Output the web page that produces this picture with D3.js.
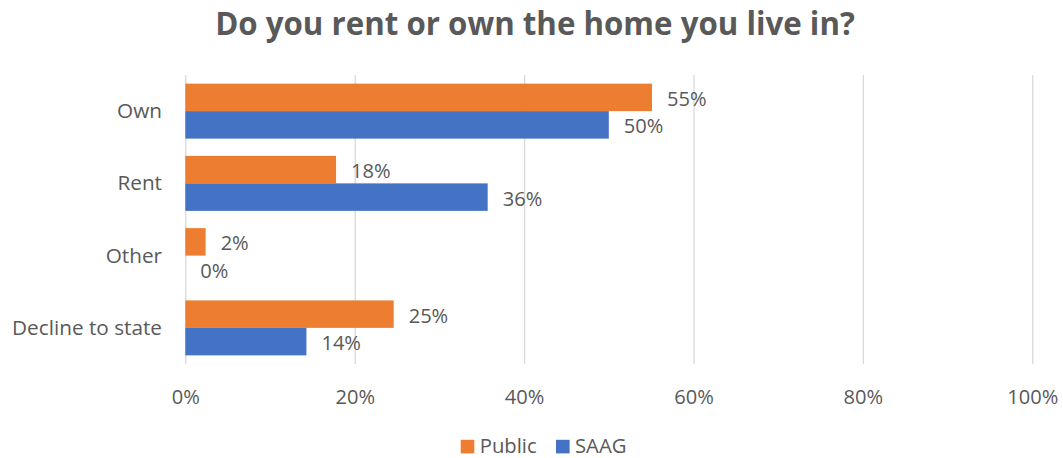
<!DOCTYPE html>
<html>
<head>
<meta charset="utf-8">
<script src="https://cdn.jsdelivr.net/npm/d3@7"></script>
<style>
  html, body { margin: 0; padding: 0; background: #fff; }
  svg { display: block; }
  text { font-family: "Open Sans", "Noto Sans", sans-serif; fill: #595959; }
</style>
</head>
<body>
<svg id="chart" width="1063" height="458"></svg>
<script>
// ---- data ----
const title = "Do you rent or own the home you live in?";
const categories = ["Own", "Rent", "Other", "Decline to state"];
const seriesNames = ["Public", "SAAG"];
const publicValues = [55.1, 17.8, 2.4, 24.6];
const saagValues = [50.0, 35.7, 0.0, 14.3];
const tickValues = [0, 20, 40, 60, 80, 100];
const tickLabels = ["0%", "20%", "40%", "60%", "80%", "100%"];
const colors = ["#ED7D31", "#4472C4"];

// ---- layout ----
const W = 1063, H = 458;
const plot = { left: 185.3, right: 1032.3, top: 75, bottom: 364 };
const svg = d3.select("#chart");

const x = d3.scaleLinear().domain([0, 100]).range([plot.left, plot.right]);
const y = d3.scaleBand().domain(categories).range([plot.top, plot.bottom])
  .paddingInner(0.239).paddingOuter(0.1195);
const ySub = d3.scaleBand().domain(seriesNames).range([0, y.bandwidth()]);

// font fitting helper: pick a size so a sample string has the target width
function fitSize(sample, targetW, weight) {
  const t = svg.append("text").attr("font-size", 100).attr("font-weight", weight || 400).text(sample);
  const w = t.node().getComputedTextLength();
  t.remove();
  return 100 * targetW / w;
}
const catSize = fitSize("Decline to state", 150);
const numSize = fitSize("18%", 39.6);
const legSize = fitSize("Public", 57);
const titleSize = fitSize(title, 640, 700);

// title
svg.append("text")
  .attr("x", 535).attr("y", 35)
  .attr("text-anchor", "middle")
  .attr("font-size", titleSize).attr("font-weight", 700)
  .text(title);

// gridlines + tick labels via axis
const xAxis = d3.axisBottom(x).tickValues(tickValues)
  .tickFormat((d, i) => tickLabels[i])
  .tickSize(-(plot.bottom - plot.top)).tickPadding(0);
const gx = svg.append("g").attr("transform", `translate(0,${plot.bottom})`).call(xAxis);
gx.select(".domain").remove();
gx.selectAll(".tick line").attr("stroke", "#d9d9d9").attr("stroke-width", 1.3);
gx.selectAll(".tick text")
  .attr("font-size", numSize).attr("fill", "#595959")
  .attr("dy", null).attr("y", 404 - plot.bottom)
  .style("font-family", '"Open Sans", "Noto Sans", sans-serif');

// category labels
const yAxis = d3.axisLeft(y).tickSize(0).tickPadding(0);
const gy = svg.append("g").attr("transform", `translate(162,0)`).call(yAxis);
gy.select(".domain").remove();
gy.selectAll(".tick text")
  .attr("font-size", catSize).attr("fill", "#595959")
  .attr("dy", null).attr("y", 7)
  .style("font-family", '"Open Sans", "Noto Sans", sans-serif');

// bars
const rows = categories.map((c, i) => ({
  cat: c,
  vals: [
    { s: seriesNames[0], v: publicValues[i], c: colors[0] },
    { s: seriesNames[1], v: saagValues[i], c: colors[1] }
  ]
}));
const groups = svg.append("g").selectAll("g").data(rows).join("g")
  .attr("transform", d => `translate(0,${y(d.cat)})`);
groups.selectAll("rect").data(d => d.vals).join("rect")
  .attr("x", x(0))
  .attr("y", d => ySub(d.s))
  .attr("width", d => x(d.v) - x(0))
  .attr("height", ySub.bandwidth())
  .attr("fill", d => d.c);
groups.selectAll("text.val").data(d => d.vals).join("text")
  .attr("class", "val")
  .attr("x", d => x(d.v) + 15)
  .attr("y", d => ySub(d.s) + ySub.bandwidth() / 2 + 8.5)
  .attr("font-size", numSize)
  .text(d => Math.round(d.v) + "%");

// legend
const legendItems = [
  { name: seriesNames[0], c: colors[0], x: 460.7 },
  { name: seriesNames[1], c: colors[1], x: 556 }
];
const lg = svg.append("g").selectAll("g").data(legendItems).join("g")
  .attr("transform", d => `translate(${d.x},0)`);
lg.append("rect").attr("x", 0).attr("y", 439.8).attr("width", 13.6).attr("height", 13.6)
  .attr("fill", d => d.c);
lg.append("text").attr("x", 19).attr("y", 453).attr("font-size", legSize).text(d => d.name);
</script>
</body>
</html>
